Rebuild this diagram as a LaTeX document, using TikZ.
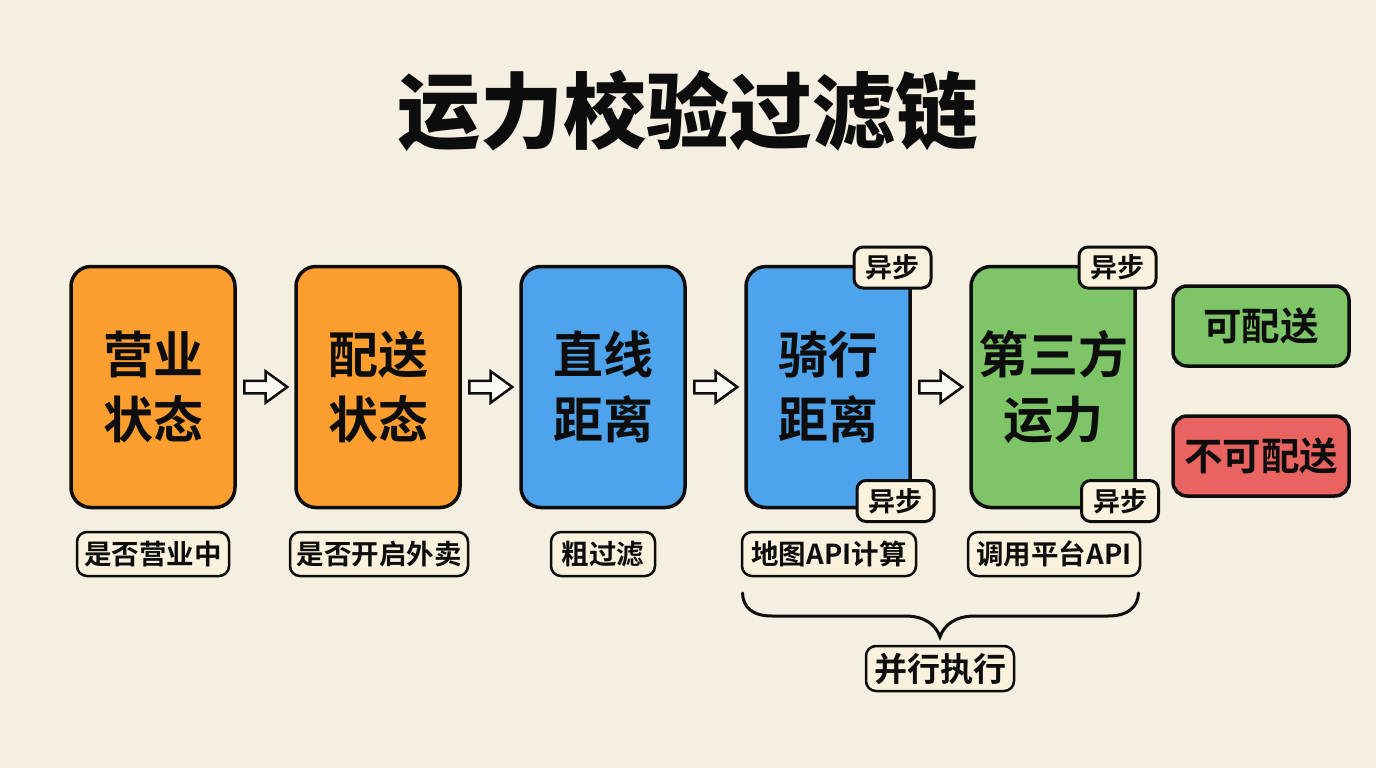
\documentclass[tikz,border=0pt]{standalone}
\usepackage{fontspec}
\setmainfont{Noto Sans CJK SC}[BoldFont={Noto Sans CJK SC Bold}]
\newfontfamily\titlefont{Noto Sans CJK SC Black}
\usetikzlibrary{shapes.arrows}
\definecolor{bgc}{HTML}{F5EFE1}
\definecolor{ink}{HTML}{0D0D0D}
\definecolor{orangec}{HTML}{FD9E2E}
\definecolor{bluec}{HTML}{4EA4EC}
\definecolor{greenc}{HTML}{7DC566}
\definecolor{redc}{HTML}{E96461}
\definecolor{tagc}{HTML}{FAF2DC}
\tikzset{
  x=1pt,y=-1pt,
  titletext/.style={font=\fontsize{83}{90}\titlefont\selectfont,text=ink,inner sep=0pt},
  stagebox/.style={draw=ink,line width=3.5pt,rounded corners=20pt,minimum width=164pt,minimum height=241pt,inner sep=0pt,align=center,text=ink,font=\fontsize{50}{65}\bfseries\selectfont},
  resultbox/.style={draw=ink,line width=3.5pt,rounded corners=14pt,minimum width=176pt,minimum height=80pt,inner sep=0pt,text=ink,font=\fontsize{38.5}{46}\bfseries\selectfont},
  badge/.style={draw=ink,fill=tagc,line width=3pt,rounded corners=9pt,minimum width=77pt,minimum height=41pt,inner sep=0pt,text=ink,font=\fontsize{27}{32}\bfseries\selectfont},
  tag/.style={draw=ink,fill=tagc,line width=2.5pt,rounded corners=10pt,minimum height=44pt,inner sep=0pt,text=ink,font=\fontsize{27.5}{32}\bfseries\selectfont},
  flowarrow/.style={single arrow,draw=ink,fill=white!60!bgc,line width=2.5pt,minimum height=43pt,minimum width=29pt,single arrow head extend=9.5pt,single arrow tip angle=72,inner xsep=0pt,inner ysep=5pt,shape border rotate=0,xshift=-4pt},
  bracepath/.style={draw=ink,line width=3pt,line cap=round}
}
\begin{document}
\begin{tikzpicture}
\useasboundingbox (0,0) rectangle (1376,768);
\fill[bgc] (0,0) rectangle (1376,768);
\node[titletext] (title) at (688,111) {运力校验过滤链};
% stages
\node[stagebox,fill=orangec] (s1) at (153,387) {营业\\状态};
\node[stagebox,fill=orangec] (s2) at (378,387) {配送\\状态};
\node[stagebox,fill=bluec]   (s3) at (603,387) {直线\\距离};
\node[stagebox,fill=bluec]   (s4) at (828,387) {骑行\\距离};
\node[stagebox,fill=greenc]  (s5) at (1053,387) {第三方\\运力};
% arrows
\path (s1) -- node[flowarrow] (a1) {} (s2);
\path (s2) -- node[flowarrow] (a2) {} (s3);
\path (s3) -- node[flowarrow] (a3) {} (s4);
\path (s4) -- node[flowarrow] (a4) {} (s5);
% results
\node[resultbox,fill=greenc] (ok) at (1261,326) {可配送};
\node[resultbox,fill=redc]   (no) at (1261,456) {不可配送};
% badges
\node[badge] (b1) at (892.5,267.5) {异步};
\node[badge] (b2) at (895.5,501) {异步};
\node[badge] (b3) at (1117.5,267.5) {异步};
\node[badge] (b4) at (1120,501) {异步};
% tags
\node[tag,minimum width=152pt] (t1) at (153,554) {是否营业中};
\node[tag,minimum width=178pt] (t2) at (379,554) {是否开启外卖};
\node[tag,minimum width=104pt] (t3) at (603,554) {粗过滤};
\node[tag,minimum width=174pt] (t4) at (829,554) {地图API计算};
\node[tag,minimum width=172pt] (t5) at (1054,554) {调用平台API};
\node[tag,minimum width=148pt,minimum height=45pt,font=\fontsize{33}{38}\bfseries\selectfont] (par) at (940,668.5) {并行执行};
% brace
\coordinate (bl) at (742.5,593);
\coordinate (br) at (1138.5,593);
\coordinate (bt) at (940,637);
\draw[bracepath] (bl) .. controls (743,607) and (752,616) .. (772,616)
  -- (905,616) .. controls (925,616) and (936,625) .. (bt)
  .. controls (944,625) and (955,616) .. (975,616)
  -- (1108,616) .. controls (1128,616) and (1138,607) .. (br);
\end{tikzpicture}
\end{document}
